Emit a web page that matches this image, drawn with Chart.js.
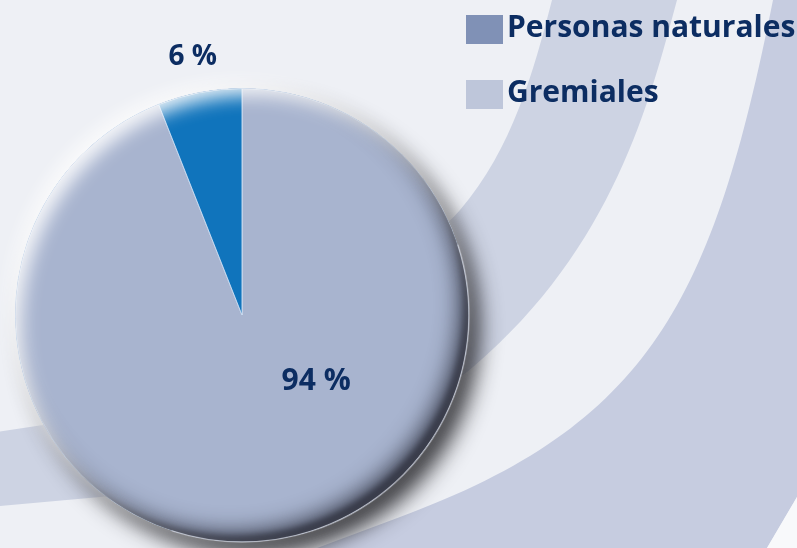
<!DOCTYPE html>
<html>
<head>
<meta charset="utf-8">
<script src="https://cdn.jsdelivr.net/npm/chart.js@4.4.1/dist/chart.umd.min.js"></script>
<style>
  html, body { margin: 0; padding: 0; background: #eef0f5; }
  #wrap { width: 797px; height: 548px; }
</style>
</head>
<body>
<div id="wrap"><canvas id="pie" width="797" height="548"></canvas></div>
<script>
// Values
const categories = ['Personas naturales', 'Gremiales'];
const shares = [94, 6];                       // percent
const sliceColors = ['#a8b4cf', '#1074bc'];
const legendColors = ['#8091b6', '#bec6da'];

const TEXT = '#0c2d62';
const FONT = '"Open Sans", "DejaVu Sans", sans-serif';

// the light swooshes behind the pie
const backdrop = {
  id: 'backdrop',
  beforeDraw(chart) {
    const ctx = chart.ctx;
    ctx.save();
    ctx.fillStyle = '#eef0f5';
    ctx.fillRect(0, 0, chart.width, chart.height);

    // wide outer swoosh
    ctx.fillStyle = '#c6cce0';
    ctx.beginPath();
    ctx.moveTo(775, -10);
    ctx.lineTo(773, 0);
    ctx.bezierCurveTo(713, 300, 650, 425, 400, 517);
    ctx.lineTo(285, 560);
    ctx.lineTo(760, 560);
    ctx.lineTo(767, 548);
    ctx.lineTo(797, 497);
    ctx.lineTo(810, 475);
    ctx.lineTo(810, -10);
    ctx.closePath();
    ctx.fill();

    // paler corner beyond it
    ctx.fillStyle = '#f8f9fb';
    ctx.beginPath();
    ctx.moveTo(760, 560);
    ctx.lineTo(767, 548);
    ctx.lineTo(797, 497);
    ctx.lineTo(810, 475);
    ctx.lineTo(810, 560);
    ctx.closePath();
    ctx.fill();

    // inner swoosh
    ctx.fillStyle = '#cdd3e3';
    ctx.beginPath();
    ctx.moveTo(555, -10);
    ctx.lineTo(552, 0);
    ctx.bezierCurveTo(534, 70, 512, 150, 460, 210);
    ctx.bezierCurveTo(400, 279, 150, 415, 43, 425);
    ctx.lineTo(-10, 433);
    ctx.lineTo(-10, 507);
    ctx.lineTo(100, 497);
    ctx.bezierCurveTo(200, 488, 402, 427, 473, 367);
    ctx.bezierCurveTo(614, 247, 650, 100, 677, 0);
    ctx.lineTo(680, -10);
    ctx.closePath();
    ctx.fill();
    ctx.restore();
  }
};

// drop shadow under the pie and a bevel on its rim
const pieShade = {
  id: 'pieShade',
  beforeDatasetsDraw(chart) {
    const { x, y, outerRadius: r } = chart.getDatasetMeta(0).data[0];
    const ctx = chart.ctx;
    ctx.save();
    ctx.fillStyle = sliceColors[0];
    ctx.beginPath();
    ctx.arc(x, y, r, 0, Math.PI * 2);
    ctx.shadowColor = 'rgba(38,38,42,0.9)';
    ctx.shadowBlur = 22;
    ctx.shadowOffsetX = 11;
    ctx.shadowOffsetY = 13;
    ctx.fill();
    ctx.shadowColor = 'rgba(255,255,255,0.85)';
    ctx.shadowBlur = 16;
    ctx.shadowOffsetX = -6;
    ctx.shadowOffsetY = -6;
    ctx.fill();
    ctx.restore();
  },
  afterDatasetsDraw(chart) {
    const { x, y, outerRadius: r } = chart.getDatasetMeta(0).data[0];
    const ctx = chart.ctx;
    ctx.save();
    ctx.beginPath();
    ctx.arc(x, y, r, 0, Math.PI * 2);
    ctx.clip();
    const ring = new Path2D();
    ring.rect(x - r - 200, y - r - 200, 2 * r + 400, 2 * r + 400);
    ring.arc(x, y, r + 3, 0, Math.PI * 2, true);
    ctx.fillStyle = '#000';
    // wide soft shade, then a tight dark lip at the lower right
    ctx.shadowColor = 'rgba(50,53,68,0.9)';
    ctx.shadowBlur = 22;
    ctx.shadowOffsetX = -12;
    ctx.shadowOffsetY = -12;
    ctx.fill(ring);
    ctx.shadowColor = 'rgba(55,58,72,1)';
    ctx.shadowBlur = 6;
    ctx.shadowOffsetX = -7;
    ctx.shadowOffsetY = -8;
    ctx.fill(ring);
    // highlight at the upper left
    ctx.shadowColor = 'rgba(255,255,255,0.9)';
    ctx.shadowBlur = 18;
    ctx.shadowOffsetX = 9;
    ctx.shadowOffsetY = 10;
    ctx.fill(ring);
    ctx.restore();

    ctx.save();
    ctx.strokeStyle = 'rgba(225,228,238,0.5)';
    ctx.lineWidth = 1.5;
    ctx.beginPath();
    ctx.arc(x, y, r + 0.5, -Math.PI * 0.1, Math.PI * 0.6);
    ctx.stroke();
    ctx.restore();
  }
};

// percentage labels, placed along each slice
const sliceLabels = {
  id: 'sliceLabels',
  afterDatasetsDraw(chart, args, opts) {
    const ctx = chart.ctx;
    const values = chart.data.datasets[0].data;
    chart.getDatasetMeta(0).data.forEach((arc, i) => {
      const p = opts.place[i];
      const a = arc.startAngle + (arc.endAngle - arc.startAngle) * p.at;
      const d = arc.outerRadius * p.dist;
      ctx.save();
      ctx.fillStyle = TEXT;
      ctx.font = 'bold ' + p.size + 'px ' + FONT;
      ctx.textAlign = 'center';
      ctx.textBaseline = 'middle';
      ctx.fillText(values[i] + ' %', arc.x + Math.cos(a) * d, arc.y + Math.sin(a) * d);
      ctx.restore();
    });
  }
};

// legend block, top right
const sideLegend = {
  id: 'sideLegend',
  afterDraw(chart, args, opts) {
    const ctx = chart.ctx;
    ctx.save();
    ctx.font = 'bold 30px ' + FONT;
    ctx.textBaseline = 'alphabetic';
    chart.data.labels.forEach((label, i) => {
      const top = opts.top + i * opts.step;
      ctx.fillStyle = legendColors[i];
      ctx.fillRect(opts.left, top, 37, 29);
      ctx.fillStyle = TEXT;
      ctx.fillText(label, opts.left + 41, top + 22);
    });
    ctx.restore();
  }
};

new Chart(document.getElementById('pie'), {
  type: 'pie',
  data: {
    labels: categories,
    datasets: [{
      data: shares,
      backgroundColor: sliceColors,
      borderColor: 'rgba(205,222,242,0.9)',
      borderWidth: 1,
      hoverOffset: 0
    }]
  },
  options: {
    responsive: false,
    devicePixelRatio: 1,
    animation: false,
    events: [],
    layout: { padding: { left: 0, right: 313, top: 88, bottom: 6 } },
    plugins: {
      legend: { display: false },
      tooltip: { enabled: false },
      sliceLabels: {
        place: [
          { at: 0.39, dist: 0.44, size: 30 },
          { at: 0.5, dist: 1.16, size: 28 }
        ]
      },
      sideLegend: { left: 466, top: 15, step: 65 }
    }
  },
  plugins: [backdrop, pieShade, sliceLabels, sideLegend]
});
</script>
</body>
</html>
